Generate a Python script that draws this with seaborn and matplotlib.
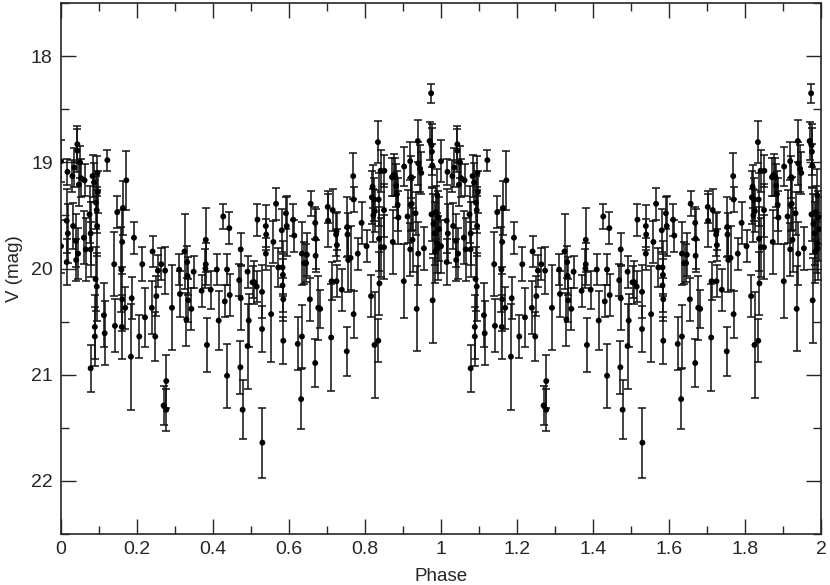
import numpy as np
import pandas as pd
import matplotlib
matplotlib.use("Agg")
import matplotlib.pyplot as plt
from matplotlib.ticker import MultipleLocator, FormatStrFormatter
import seaborn as sns

# phase-folded light curve, one cycle
phase = [0.000, 0.000, 0.015, 0.015, 0.017, 0.018, 0.030, 0.032, 0.035, 0.039,
         0.040, 0.043, 0.043, 0.045, 0.047, 0.050, 0.053, 0.062, 0.060, 0.065,
         0.075, 0.078, 0.078, 0.078, 0.083, 0.087, 0.089, 0.089, 0.091, 0.092,
         0.094, 0.094, 0.095, 0.096, 0.097, 0.113, 0.115, 0.122, 0.140, 0.142,
         0.148, 0.159, 0.160, 0.161, 0.161, 0.163, 0.169, 0.172, 0.184, 0.186,
         0.192, 0.206, 0.214, 0.221, 0.239, 0.241, 0.248, 0.251, 0.255, 0.264,
         0.270, 0.274, 0.277, 0.277, 0.292, 0.311, 0.313, 0.325, 0.330, 0.332,
         0.333, 0.335, 0.343, 0.349, 0.370, 0.381, 0.381, 0.380, 0.384, 0.394,
         0.410, 0.415, 0.427, 0.431, 0.437, 0.437, 0.443, 0.444, 0.469, 0.472,
         0.473, 0.473, 0.478, 0.491, 0.491, 0.494, 0.504, 0.509, 0.515, 0.517,
         0.529, 0.529, 0.530, 0.539, 0.540, 0.539, 0.553, 0.559, 0.566, 0.572,
         0.581, 0.583, 0.584, 0.583, 0.585, 0.585, 0.592, 0.594, 0.611, 0.614,
         0.623, 0.632, 0.634, 0.634, 0.640, 0.645, 0.647, 0.655, 0.657, 0.669,
         0.669, 0.670, 0.670, 0.677, 0.682, 0.702, 0.703, 0.711, 0.712, 0.715,
         0.724, 0.725, 0.726, 0.725, 0.739, 0.752, 0.753, 0.754, 0.756, 0.762,
         0.769, 0.770, 0.770, 0.781, 0.791, 0.804, 0.816, 0.818, 0.820, 0.822,
         0.826, 0.824, 0.825, 0.834, 0.835, 0.836, 0.837, 0.838, 0.841, 0.842,
         0.851, 0.850, 0.850, 0.871, 0.873, 0.875, 0.880, 0.882, 0.884, 0.886,
         0.888, 0.902, 0.903, 0.912, 0.919, 0.919, 0.920, 0.922, 0.923, 0.925,
         0.933, 0.936, 0.939, 0.940, 0.940, 0.945, 0.948, 0.955, 0.970, 0.974,
         0.975, 0.976, 0.977, 0.975, 0.978, 0.980, 0.983, 0.986, 0.985, 0.990,
         0.990, 0.991, 0.993, 0.995]

vmag = [18.99, 19.79, 19.55, 19.94, 19.09, 19.67, 19.13, 19.60, 19.05, 19.74,
        19.92, 18.83, 18.89, 19.86, 19.21, 19.00, 19.15, 19.17, 19.71, 19.82,
        19.49, 19.82, 19.67, 20.94, 19.13, 19.19, 20.55, 20.64, 20.10, 19.38,
        20.17, 19.45, 19.60, 19.10, 19.28, 20.44, 20.61, 18.98, 19.96, 20.54,
        19.47, 20.01, 20.55, 19.75, 20.29, 19.43, 20.37, 19.17, 20.83, 20.28,
        19.71, 20.64, 19.96, 20.46, 20.37, 19.84, 20.64, 20.26, 20.02, 19.96,
        21.29, 20.02, 21.33, 21.06, 20.37, 20.01, 20.24, 19.84, 20.48, 19.94,
        20.07, 20.30, 20.38, 20.03, 20.21, 19.73, 19.96, 20.00, 20.72, 20.20,
        20.01, 20.49, 19.51, 20.31, 20.01, 21.01, 19.62, 20.25, 20.11, 20.93,
        19.82, 20.28, 21.33, 20.03, 20.73, 20.49, 20.13, 20.13, 20.17, 19.54,
        20.22, 20.57, 21.64, 19.60, 19.68, 19.86, 20.43, 19.75, 19.39, 19.99,
        19.64, 19.99, 20.06, 20.16, 20.29, 20.68, 19.48, 19.60, 19.54, 19.69,
        20.71, 21.23, 19.86, 20.64, 19.95, 19.95, 19.87, 20.29, 19.39, 19.57,
        20.89, 19.72, 19.88, 20.37, 20.38, 19.42, 19.55, 20.65, 20.12, 19.45,
        19.68, 19.65, 19.78, 20.12, 20.20, 20.78, 19.61, 19.68, 19.92, 19.90,
        19.13, 19.35, 20.43, 19.86, 19.57, 19.79, 20.26, 19.33, 19.23, 19.50,
        19.46, 19.35, 20.72, 18.81, 20.68, 19.35, 19.72, 20.14, 19.08, 19.80,
        19.08, 19.45, 19.80, 19.14, 19.75, 19.12, 19.14, 19.22, 19.30, 19.40,
        19.52, 20.12, 19.04, 19.51, 18.99, 19.82, 19.40, 19.14, 19.39, 19.73,
        19.48, 20.38, 18.80, 19.86, 19.01, 19.06, 19.10, 19.81, 18.80, 18.35,
        18.84, 18.90, 19.03, 19.49, 20.30, 19.58, 19.67, 19.47, 19.84, 19.76,
        19.31, 19.81, 19.52, 19.63]

verr = [0.20, 0.25, 0.30, 0.22, 0.12, 0.28, 0.15, 0.22, 0.18, 0.25,
        0.20, 0.17, 0.20, 0.24, 0.20, 0.15, 0.18, 0.15, 0.25, 0.30,
        0.27, 0.26, 0.30, 0.22, 0.20, 0.18, 0.30, 0.28, 0.30, 0.25,
        0.32, 0.22, 0.28, 0.16, 0.20, 0.30, 0.30, 0.10, 0.30, 0.25,
        0.15, 0.40, 0.30, 0.30, 0.30, 0.25, 0.20, 0.28, 0.50, 0.20,
        0.15, 0.20, 0.16, 0.28, 0.25, 0.15, 0.23, 0.19, 0.15, 0.15,
        0.18, 0.22, 0.20, 0.25, 0.40, 0.15, 0.22, 0.35, 0.25, 0.15,
        0.18, 0.20, 0.20, 0.15, 0.15, 0.30, 0.20, 0.18, 0.25, 0.18,
        0.15, 0.28, 0.12, 0.15, 0.15, 0.30, 0.15, 0.20, 0.15, 0.25,
        0.15, 0.30, 0.28, 0.15, 0.40, 0.25, 0.15, 0.20, 0.15, 0.15,
        0.25, 0.22, 0.33, 0.20, 0.15, 0.15, 0.45, 0.20, 0.15, 0.18,
        0.20, 0.25, 0.20, 0.25, 0.20, 0.22, 0.15, 0.28, 0.15, 0.15,
        0.25, 0.28, 0.30, 0.30, 0.20, 0.18, 0.20, 0.20, 0.12, 0.15,
        0.23, 0.28, 0.15, 0.30, 0.18, 0.15, 0.25, 0.50, 0.18, 0.20,
        0.20, 0.18, 0.15, 0.15, 0.20, 0.23, 0.28, 0.20, 0.30, 0.30,
        0.22, 0.12, 0.22, 0.15, 0.20, 0.15, 0.20, 0.25, 0.20, 0.25,
        0.20, 0.20, 0.50, 0.20, 0.20, 0.25, 0.30, 0.30, 0.20, 0.28,
        0.15, 0.25, 0.30, 0.18, 0.30, 0.20, 0.18, 0.20, 0.22, 0.25,
        0.25, 0.35, 0.18, 0.25, 0.18, 0.25, 0.25, 0.20, 0.25, 0.30,
        0.20, 0.40, 0.20, 0.30, 0.20, 0.22, 0.20, 0.20, 0.18, 0.09,
        0.20, 0.22, 0.20, 0.25, 0.40, 0.28, 0.30, 0.25, 0.30, 0.28,
        0.25, 0.30, 0.25, 0.30]

# plotted over two cycles
df = pd.DataFrame({"phase": phase, "V": vmag, "err": verr})
df = pd.concat([df, df.assign(phase=df.phase + 1)], ignore_index=True)

sns.set_style("ticks")
plt.rcParams['font.family'] = ['Liberation Sans', 'DejaVu Sans']

fig = plt.figure(figsize=(8.3, 5.85), dpi=100)
ax = fig.add_axes([61/830, 1-534/585, 760/830, 531/585])

ax.errorbar(df.phase, df.V, yerr=df.err, fmt='none', ecolor='#111111',
            elinewidth=1.1, capsize=2.9, capthick=1.1, zorder=2)
sns.scatterplot(data=df, x="phase", y="V", color='black', s=18,
                edgecolor='none', ax=ax, zorder=3)

ax.set_xlim(0, 2)
ax.set_ylim(22.5, 17.5)
ax.xaxis.set_major_locator(MultipleLocator(0.2))
ax.xaxis.set_minor_locator(MultipleLocator(0.1))
ax.yaxis.set_major_locator(MultipleLocator(1))
ax.yaxis.set_minor_locator(MultipleLocator(0.5))
ax.xaxis.set_major_formatter(FormatStrFormatter('%g'))
ax.tick_params(which='both', direction='in', top=True, right=True,
               width=1.0, labelsize=14)
ax.tick_params(axis='x', which='major', length=10.5, pad=5)
ax.tick_params(axis='y', which='major', length=10.5, pad=6)
ax.tick_params(which='minor', length=5.5)
for sp in ax.spines.values():
    sp.set_linewidth(1.2)

ax.set_xlabel("Phase", fontsize=13.5, labelpad=7)
ax.set_ylabel("V (mag)", fontsize=13.5, labelpad=6)

fig.savefig("out.png", dpi=100)
